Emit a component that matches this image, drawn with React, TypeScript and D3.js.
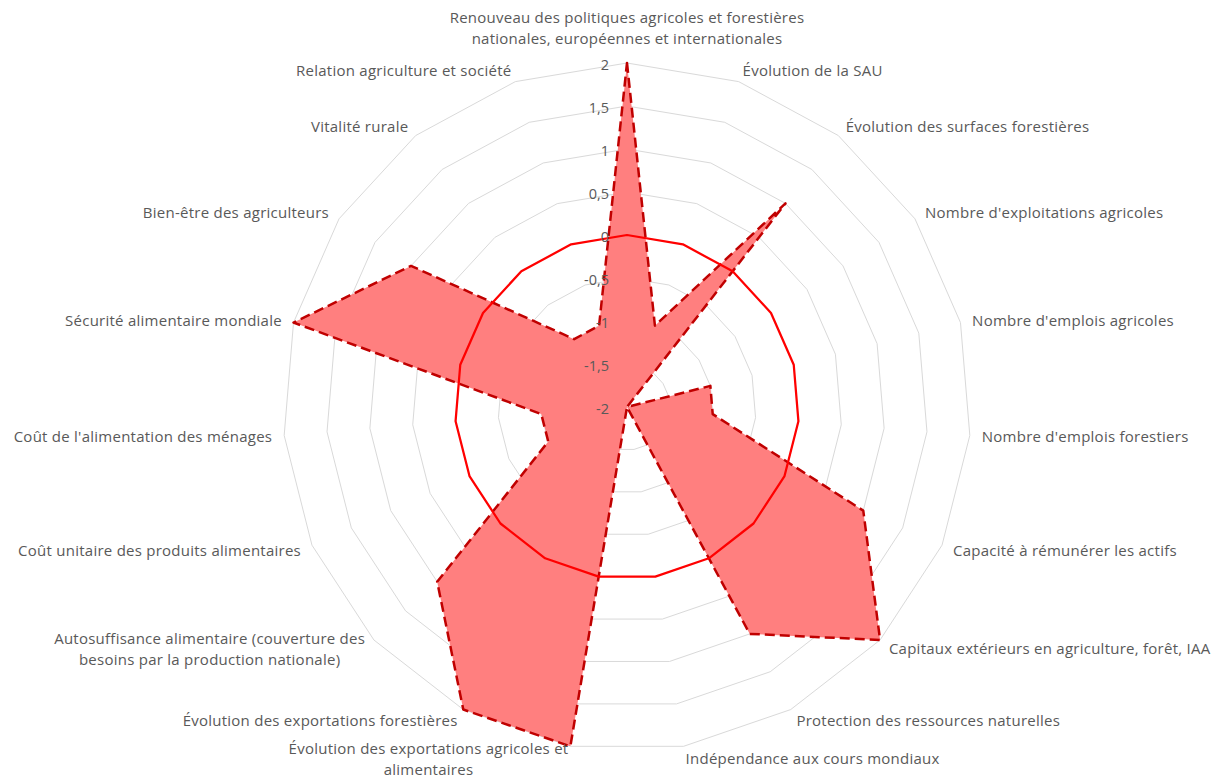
import React, { useEffect, useRef } from 'react';
import * as d3 from 'd3';

const categories: string[] = [
  "Renouveau des politiques agricoles et forestières\nnationales, européennes et internationales",
  "Évolution de la SAU",
  "Évolution des surfaces forestières",
  "Nombre d'exploitations agricoles",
  "Nombre d'emplois agricoles",
  "Nombre d'emplois forestiers",
  "Capacité à rémunérer les actifs",
  "Capitaux extérieurs en agriculture, forêt, IAA",
  "Protection des ressources naturelles",
  "Indépendance aux cours mondiaux",
  "Évolution des exportations agricoles et\nalimentaires",
  "Évolution des exportations forestières",
  "Autosuffisance alimentaire (couverture des\nbesoins par la production nationale)",
  "Coût unitaire des produits alimentaires",
  "Coût de l'alimentation des ménages",
  "Sécurité alimentaire mondiale",
  "Bien-être des agriculteurs",
  "Vitalité rurale",
  "Relation agriculture et société",
];

const scenarioValues: number[] = [2, -1, 1, -2, -1, -1, 1, 2, 1, -2, 2, 2, 1, -1, -1, 2, 1, -1, -1];
const referenceValues: number[] = [0, 0, 0, 0, 0, 0, 0, 0, 0, 0, 0, 0, 0, 0, 0, 0, 0, 0, 0];

const tickValues: number[] = [-2, -1.5, -1, -0.5, 0, 0.5, 1, 1.5, 2];
const tickLabels: string[] = ["-2", "-1,5", "-1", "-0,5", "0", "0,5", "1", "1,5", "2"];

const W = 1223;
const H = 778;

export default function App() {
  const ref = useRef<SVGSVGElement | null>(null);

  useEffect(() => {
    const svg = d3.select(ref.current);
    svg.selectAll('*').remove();

    const cx = 627;
    const cy = 407;
    const R = 344;
    const n = categories.length;
    const font = "'Open Sans', Lato, sans-serif";
    const textColor = '#595959';

    const r = d3.scaleLinear().domain([-2, 2]).range([0, R]);
    const angle = (i: number) => (i * 2 * Math.PI) / n;

    const g = svg.append('g').attr('transform', `translate(${cx},${cy})`);

    const radial = d3
      .lineRadial<number>()
      .angle((_d, i) => angle(i))
      .radius((d) => r(d))
      .curve(d3.curveLinearClosed);

    // grid rings
    tickValues
      .filter((t) => t > -2)
      .forEach((t) => {
        g.append('path')
          .attr('d', radial(categories.map(() => t)) as string)
          .attr('fill', 'none')
          .attr('stroke', '#D9D9D9')
          .attr('stroke-width', 1);
      });

    // scenario series
    g.append('path')
      .attr('d', radial(scenarioValues) as string)
      .attr('fill', '#FF7F7F')
      .attr('stroke', '#C00000')
      .attr('stroke-width', 2.5)
      .attr('stroke-dasharray', '10,5')
      .attr('stroke-linejoin', 'round');

    // reference series (zero)
    g.append('path')
      .attr('d', radial(referenceValues) as string)
      .attr('fill', 'none')
      .attr('stroke', '#FF0000')
      .attr('stroke-width', 2.25)
      .attr('stroke-linejoin', 'round');

    // tick labels
    tickValues.forEach((t, i) => {
      g.append('text')
        .attr('x', -18)
        .attr('y', -r(t) + 1)
        .attr('text-anchor', 'end')
        .attr('dominant-baseline', 'central')
        .attr('font-family', font)
        .attr('font-size', 14.5)
        .attr('fill', textColor)
        .text(tickLabels[i]);
    });

    // category labels
    const lh = 21;
    categories.forEach((label, i) => {
      const a = angle(i);
      const s = Math.sin(a);
      const c = Math.cos(a);
      const px = (R + 12) * s;
      const py = -(R + 12) * c;
      const lines = label.split('\n');
      const texts = lines.map((line) =>
        g
          .append('text')
          .attr('dominant-baseline', 'central')
          .attr('text-anchor', 'middle')
          .attr('font-family', font)
          .attr('font-size', 15)
          .attr('letter-spacing', 0.25)
          .attr('fill', textColor)
          .text(line)
      );
      const widths = texts.map((t) => (t.node() as SVGTextElement).getComputedTextLength());
      const bw = Math.max(...widths);
      let centerX = px;
      if (s > 0.01) centerX = px + bw / 2;
      else if (s < -0.01) centerX = px - bw / 2;
      const m = lines.length;
      texts.forEach((t, k) => {
        let y: number;
        if (Math.abs(s) < 0.01 && c > 0) {
          y = py - (m - 1 - k) * lh - 13;
        } else {
          y = py + (k - (m - 1) / 2) * lh;
        }
        t.attr('x', centerX).attr('y', y);
      });
    });
  }, []);

  return (
    <svg
      ref={ref}
      width={W}
      height={H}
      style={{ position: 'absolute', left: 0, top: 0, background: '#ffffff' }}
    />
  );
}
